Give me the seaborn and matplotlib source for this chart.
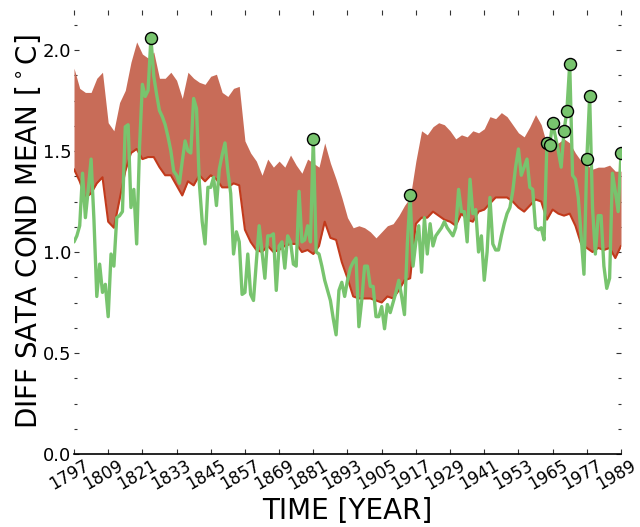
import matplotlib
matplotlib.use("Agg")
import numpy as np
import pandas as pd
import seaborn as sns
import matplotlib.pyplot as plt
import matplotlib.transforms as mtransforms
from matplotlib.ticker import MultipleLocator, FormatStrFormatter

# ---------------- data ----------------
band_years = list(range(1797, 1990, 2))
lower = [1.41, 1.35, 1.27, 1.29, 1.34, 1.37, 1.15, 1.12, 1.26, 1.40,
         1.49, 1.51, 1.46, 1.47, 1.47, 1.42, 1.38, 1.38, 1.33, 1.28,
         1.35, 1.33, 1.38, 1.35, 1.38, 1.36, 1.32, 1.32, 1.34, 1.33,
         1.11, 1.05, 1.01, 1.00, 1.03, 1.00, 1.01, 1.03, 1.04, 1.04,
         1.00, 1.01, 0.99, 1.03, 1.15, 1.07, 1.06, 0.95, 0.87, 0.78,
         0.77, 0.77, 0.77, 0.76, 0.75, 0.78, 0.77, 0.81, 0.86, 0.87,
         1.14, 1.17, 1.17, 1.20, 1.18, 1.16, 1.15, 1.13, 1.19, 1.16,
         1.15, 1.20, 1.21, 1.24, 1.27, 1.27, 1.27, 1.25, 1.22, 1.20,
         1.23, 1.26, 1.25, 1.16, 1.21, 1.19, 1.18, 1.19, 1.13, 1.04,
         1.02, 1.00, 1.02, 1.01, 1.02, 0.97, 1.03]
upper = [1.91, 1.81, 1.79, 1.79, 1.86, 1.89, 1.64, 1.60, 1.74, 1.80,
         1.94, 2.04, 1.98, 1.96, 1.99, 1.86, 1.86, 1.89, 1.85, 1.76,
         1.89, 1.86, 1.84, 1.83, 1.87, 1.88, 1.79, 1.77, 1.81, 1.82,
         1.55, 1.49, 1.45, 1.38, 1.46, 1.42, 1.45, 1.42, 1.48, 1.43,
         1.39, 1.46, 1.44, 1.42, 1.54, 1.44, 1.36, 1.27, 1.17, 1.12,
         1.13, 1.12, 1.10, 1.07, 1.10, 1.13, 1.14, 1.18, 1.23, 1.27,
         1.45, 1.60, 1.58, 1.62, 1.64, 1.63, 1.60, 1.56, 1.58, 1.57,
         1.60, 1.59, 1.61, 1.67, 1.66, 1.69, 1.67, 1.63, 1.59, 1.57,
         1.62, 1.68, 1.63, 1.53, 1.52, 1.54, 1.56, 1.54, 1.49, 1.45,
         1.43, 1.41, 1.42, 1.42, 1.43, 1.40, 1.40]

years = list(range(1797, 1990))
green = [1.05, 1.08, 1.13, 1.39, 1.17, 1.31, 1.46, 1.16, 0.78, 0.94,   # 1797-1806
         0.80, 0.84, 0.68, 0.99, 0.93, 1.17, 1.18, 1.20, 1.62, 1.63,   # 1807-1816
         1.22, 1.31, 1.04, 1.52, 1.83, 1.77, 1.80, 2.06, 1.87, 1.78,   # 1817-1826
         1.70, 1.67, 1.63, 1.57, 1.50, 1.40, 1.38, 1.34, 1.45, 1.55,   # 1827-1836
         1.50, 1.49, 1.76, 1.71, 1.34, 1.15, 1.04, 1.32, 1.32, 1.37,   # 1837-1846
         1.23, 1.41, 1.48, 1.54, 1.40, 1.29, 0.99, 1.10, 1.05, 0.79,   # 1847-1856
         0.80, 0.99, 0.79, 0.76, 0.95, 1.13, 1.00, 0.87, 1.08, 1.08,   # 1857-1866
         1.09, 0.81, 1.03, 1.05, 0.92, 1.08, 1.05, 0.94, 0.93, 1.30,   # 1867-1876
         1.05, 1.06, 1.13, 1.05, 1.56, 1.00, 0.99, 0.93, 0.86, 0.81,   # 1877-1886
         0.76, 0.67, 0.59, 0.81, 0.85, 0.78, 0.86, 0.92, 0.95, 0.97,   # 1887-1896
         0.63, 0.76, 0.93, 0.93, 0.83, 0.83, 0.68, 0.68, 0.73, 0.62,   # 1897-1906
         0.74, 0.70, 0.75, 0.80, 0.86, 0.78, 0.69, 1.04, 1.28, 0.93,   # 1907-1916
         1.05, 1.13, 0.90, 1.17, 0.99, 1.14, 1.03, 1.08, 1.10, 1.12,   # 1917-1926
         1.15, 1.12, 1.10, 1.08, 1.12, 1.31, 1.20, 1.20, 1.05, 1.36,   # 1927-1936
         1.19, 1.21, 1.00, 1.08, 0.86, 1.00, 1.27, 1.04, 1.01, 1.01,   # 1937-1946
         1.08, 1.14, 1.19, 1.22, 1.30, 1.42, 1.51, 1.38, 1.42, 1.46,   # 1947-1956
         1.32, 1.31, 1.12, 1.11, 1.12, 1.06, 1.54, 1.53, 1.64, 1.57,   # 1957-1966
         1.50, 1.42, 1.60, 1.70, 1.93, 1.38, 1.36, 1.27, 1.08, 0.89,   # 1967-1976
         1.46, 1.77, 1.22, 0.99, 1.18, 1.18, 0.93, 0.82, 0.87, 1.39,   # 1977-1986
         1.30, 1.20, 1.49]                                             # 1987-1989
flag_years = [1824, 1881, 1915, 1963, 1964, 1965, 1969, 1970, 1971, 1977, 1978, 1989]
xtick_years = list(range(1797, 1990, 12))

# ---------------- plot ----------------
sns.set_style("white")
plt.rcParams['font.family'] = ['DejaVu Sans']
plt.rcParams['text.color'] = 'black'
plt.rcParams['axes.labelcolor'] = 'black'

fig = plt.figure(figsize=(6.4, 5.27), dpi=100)
ax = fig.add_axes([74 / 640, 1 - 454 / 527, (621 - 74) / 640, (454 - 9.6) / 527])

band = pd.DataFrame({'year': band_years, 'lower': lower, 'upper': upper})
ax.fill_between(band['year'], band['lower'], band['upper'], color='#c86c58', lw=0, zorder=1)
sns.lineplot(data=band, x='year', y='lower', color='#c23a1c', lw=1.5, ax=ax, zorder=2)

g = pd.DataFrame({'year': years, 'val': green})
sns.lineplot(data=g, x='year', y='val', color='#78c46e', lw=2.4, ax=ax, zorder=3)
flag = g[g['year'].isin(flag_years)]
sns.scatterplot(data=flag, x='year', y='val', color='#78c46e', edgecolor='black',
                linewidth=1, s=75, ax=ax, zorder=4)

ax.set_xlim(1797, 1989)
ax.set_ylim(0, 2.2)
ax.set_xticks(xtick_years)
ax.set_xticklabels([str(y) for y in xtick_years], rotation=30, ha='center', fontsize=12.2)
ax.yaxis.set_major_locator(MultipleLocator(0.5))
ax.yaxis.set_minor_locator(MultipleLocator(0.125))
ax.yaxis.set_major_formatter(FormatStrFormatter('%.1f'))
ax.tick_params(axis='y', labelsize=13)
ax.tick_params(which='both', left=True, right=True, top=True, bottom=True,
               direction='in', color='#333333', labelcolor='black', width=0.8)
ax.tick_params(which='major', length=3.5, pad=2)
ax.tick_params(which='minor', length=2)

shift = mtransforms.ScaledTranslation(-5 / 100, 0, fig.dpi_scale_trans)
for lbl in ax.xaxis.get_majorticklabels():
    lbl.set_transform(lbl.get_transform() + shift)

for s in ['left', 'right', 'top']:
    ax.spines[s].set_visible(False)
ax.spines['bottom'].set_color('black')
ax.spines['bottom'].set_linewidth(1.2)

ax.set_xlabel('TIME [YEAR]', fontsize=20, labelpad=2)
ax.set_ylabel(r'DIFF SATA COND MEAN [$^\circ$C]', fontsize=20, labelpad=0)

fig.savefig('out.png', dpi=100)
